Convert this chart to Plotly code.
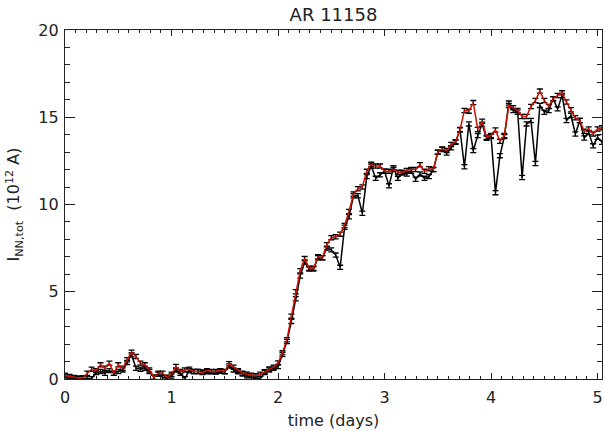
import plotly.graph_objects as go

# hourly samples (hours since start)
hours = list(range(122))
time_days = [h / 24.0 for h in hours]

# red series (10^12 A)
red_vals = [
    0.20, 0.14, 0.08, 0.06, 0.07, 0.33, 0.56, 0.48, 0.81, 0.62,
    0.91, 0.33, 0.81, 0.62, 1.10, 1.54, 1.29, 0.91, 0.81, 0.52,
    0.10, 0.33, 0.33, 0.10, 0.27, 0.72, 0.43, 0.52, 0.56, 0.43,
    0.43, 0.37, 0.48, 0.43, 0.43, 0.48, 0.43, 0.87, 0.68, 0.48,
    0.33, 0.27, 0.22, 0.18, 0.27, 0.42, 0.57, 0.68, 0.92, 1.50,
    2.25, 3.60, 5.00, 6.20, 6.90, 6.35, 6.35, 7.00, 6.95, 7.70,
    8.10, 8.15, 8.30, 8.80, 9.60, 10.60, 10.90, 11.00, 11.90, 12.30,
    12.20, 12.20, 11.90, 11.90, 12.00, 11.85, 11.85, 11.95, 12.00, 12.00,
    12.28, 11.90, 12.05, 12.00, 13.00, 13.18, 13.10, 13.44, 13.60, 14.27,
    15.39, 15.35, 15.84, 14.30, 14.77, 13.85, 13.95, 14.27, 13.62, 13.95,
    15.68, 15.55, 15.39, 15.04, 15.04, 15.62, 15.96, 16.50, 15.96, 15.62,
    16.06, 16.25, 16.40, 15.87, 15.43, 14.97, 14.81, 14.20, 14.33, 14.04,
    14.33, 14.40,
]

# black series (10^12 A)
black_vals = [
    0.20, 0.12, 0.04, 0.02, 0.02, 0.02, 0.02, 0.37, 0.43, 0.33,
    0.48, 0.33, 0.43, 0.52, 0.95, 1.39, 0.62, 0.56, 0.62, 0.43,
    0.10, 0.27, 0.10, 0.04, 0.17, 0.52, 0.33, 0.02, 0.48, 0.43,
    0.43, 0.40, 0.42, 0.42, 0.40, 0.45, 0.42, 0.75, 0.52, 0.42,
    0.29, 0.18, 0.10, 0.02, 0.02, 0.37, 0.52, 0.62, 0.72, 1.40,
    2.15, 3.30, 4.60, 5.90, 6.70, 6.30, 6.30, 6.95, 6.95, 7.50,
    7.40, 7.10, 6.40, 8.70, 9.30, 10.50, 10.50, 9.50, 11.60, 12.20,
    11.50, 11.70, 11.90, 11.07, 12.10, 11.50, 11.80, 11.75, 11.90, 11.45,
    11.75, 11.50, 11.60, 12.00, 13.00, 13.15, 12.95, 13.25, 13.56, 14.30,
    12.16, 14.62, 13.09, 13.95, 14.60, 13.80, 13.90, 10.68, 12.80, 13.89,
    15.81, 15.39, 15.29, 11.55, 14.62, 14.81, 12.35, 15.68, 15.29, 15.39,
    16.06, 15.48, 16.25, 14.81, 15.10, 14.04, 14.81, 13.81, 14.13, 13.36,
    13.85, 13.56,
]

x_ticks = [0, 1, 2, 3, 4, 5]
y_ticks = [0, 5, 10, 15, 20]

FONT = "DejaVu Sans, Verdana, sans-serif"
INK = "#222222"

fig = go.Figure()

fig.add_trace(go.Scatter(
    x=time_days, y=black_vals, mode="lines",
    line=dict(color="black", width=1.5),
    error_y=dict(type="constant", value=0.12, color="black", thickness=1.3, width=3),
    showlegend=False,
))
fig.add_trace(go.Scatter(
    x=time_days, y=red_vals, mode="lines",
    line=dict(color="#d01000", width=1.5),
    error_y=dict(type="constant", value=0.12, color="black", thickness=1.3, width=3),
    showlegend=False,
))

axis_common = dict(
    showline=True, linecolor="#222222", linewidth=1.2, mirror="allticks",
    ticks="inside", tickcolor="#222222", showgrid=False, zeroline=False,
    tickfont=dict(family=FONT, size=16, color=INK),
)

fig.update_xaxes(
    range=[0, 121 / 24.0], tickvals=x_ticks, ticklen=6, tickwidth=1,
    ticklabelstandoff=4,
    minor=dict(dtick=0.1, ticks="inside", ticklen=3, tickcolor="#222222", tickwidth=1, showgrid=False),
    title=dict(text="time (days)", font=dict(family=FONT, size=16, color=INK), standoff=8),
    **axis_common,
)
fig.update_yaxes(
    range=[0, 20], tickvals=y_ticks, ticklen=10, tickwidth=1,
    ticklabelstandoff=2,
    minor=dict(dtick=1, ticks="inside", ticklen=5, tickcolor="#222222", tickwidth=1, showgrid=False),
    title=dict(text="I<sub>NN,tot</sub>  (10<sup>12</sup> A)", font=dict(family=FONT, size=16, color=INK), standoff=14),
    **axis_common,
)

fig.update_layout(
    width=604, height=431,
    margin=dict(l=65, r=2, t=30, b=52),
    paper_bgcolor="white", plot_bgcolor="white",
    title=dict(text="AR 11158", x=0.5, xref="paper", y=0.965, yref="container",
               xanchor="center", yanchor="middle",
               font=dict(family=FONT, size=18, color=INK)),
)

fig.write_html("out.html")
